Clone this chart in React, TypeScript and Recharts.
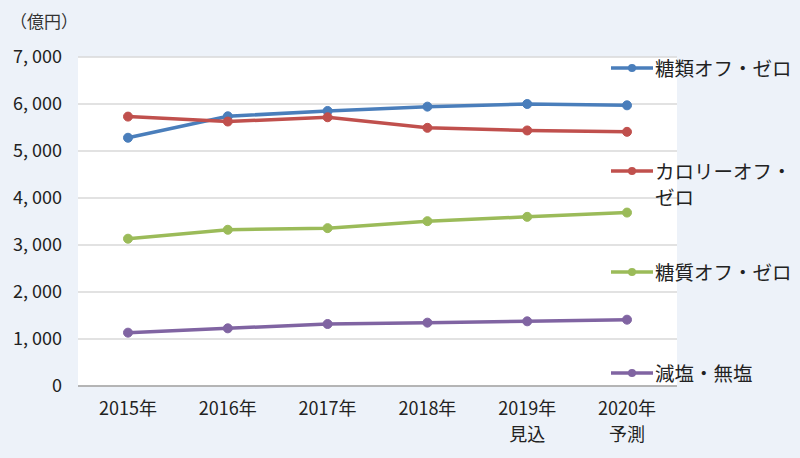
import { CartesianGrid, Line, LineChart, XAxis, YAxis } from "recharts";

const years = ["2015年", "2016年", "2017年", "2018年", "2019年\n見込", "2020年\n予測"];
const sugarFree = [5282, 5739, 5852, 5944, 6000, 5972];
const calorieFree = [5732, 5627, 5718, 5493, 5437, 5408];
const carbFree = [3134, 3324, 3359, 3507, 3599, 3690];
const lowSalt = [1135, 1227, 1319, 1348, 1376, 1411];
const yTicks = [0, 1000, 2000, 3000, 4000, 5000, 6000, 7000];

const series = [
  { key: "sugar", name: "糖類オフ・ゼロ", color: "#4a7ebb" },
  { key: "calorie", name: "カロリーオフ・ゼロ", color: "#c0504d" },
  { key: "carb", name: "糖質オフ・ゼロ", color: "#9bbb59" },
  { key: "salt", name: "減塩・無塩", color: "#8064a2" },
];

const data = years.map((year, i) => ({
  year,
  sugar: sugarFree[i],
  calorie: calorieFree[i],
  carb: carbFree[i],
  salt: lowSalt[i],
}));

const FONT = '"Noto Sans CJK JP", "Noto Sans", sans-serif';
const legendTops = [68, 171, 272, 373];

const formatY = (v: number) => v.toLocaleString("en-US").replace(",", ", ");

function YearTick({ x, y, payload }: any) {
  const lines = String(payload.value).split("\n");
  return (
    <text x={x} y={y} textAnchor="middle" fill="#222" fontSize={18} fontFamily={FONT}>
      {lines.map((line, i) => (
        <tspan key={i} x={x} dy={i === 0 ? 21 : 26}>
          {line}
        </tspan>
      ))}
    </text>
  );
}

// legend sits over the right edge of the plot, one entry per series
function SideLegend() {
  return (
    <>
      {series.map((s, i) => (
        <div
          key={s.key}
          style={{ position: "absolute", left: 611, top: legendTops[i] - 13, display: "flex", alignItems: "flex-start" }}
        >
          <svg width={42} height={26} style={{ flex: "none" }}>
            <line x1={0} y1={13} x2={42} y2={13} stroke={s.color} strokeWidth={3.5} />
            <circle cx={21} cy={13} r={4} fill={s.color} />
          </svg>
          <div
            style={{
              width: 142,
              marginLeft: 2,
              fontSize: 19.5,
              lineHeight: "26px",
              color: "#222",
              fontFamily: FONT,
            }}
          >
            {s.name}
          </div>
        </div>
      ))}
    </>
  );
}

export default function App() {
  return (
    <div
      style={{
        position: "absolute",
        left: 0,
        top: 0,
        width: 800,
        height: 458,
        background: "#edf2f9",
        fontFamily: FONT,
      }}
    >
      <div style={{ position: "absolute", left: 10, top: 8, fontSize: 17, color: "#333" }}>（億円）</div>
      <LineChart width={800} height={458} data={data} margin={{ top: 57, right: 123, left: 8, bottom: 12 }}>
        <CartesianGrid vertical={false} stroke="#d9d9d9" strokeWidth={1.5} fill="#ffffff" />
        <XAxis
          dataKey="year"
          height={60}
          interval={0}
          padding={{ left: 50, right: 50 }}
          tickLine={false}
          axisLine={{ stroke: "#a6a6a6", strokeWidth: 1.5 }}
          tick={<YearTick />}
        />
        <YAxis
          width={70}
          domain={[0, 7000]}
          ticks={yTicks}
          axisLine={false}
          tickLine={false}
          tickSize={0}
          tickMargin={16}
          tickFormatter={formatY}
          tick={{ fill: "#222", fontSize: 18, fontFamily: FONT }}
        />
        {series.map((s) => (
          <Line
            key={s.key}
            dataKey={s.key}
            name={s.name}
            stroke={s.color}
            strokeWidth={3.5}
            dot={{ r: 4.5, fill: s.color, stroke: s.color, strokeWidth: 1 }}
            isAnimationActive={false}
          />
        ))}
      </LineChart>
      <SideLegend />
    </div>
  );
}
